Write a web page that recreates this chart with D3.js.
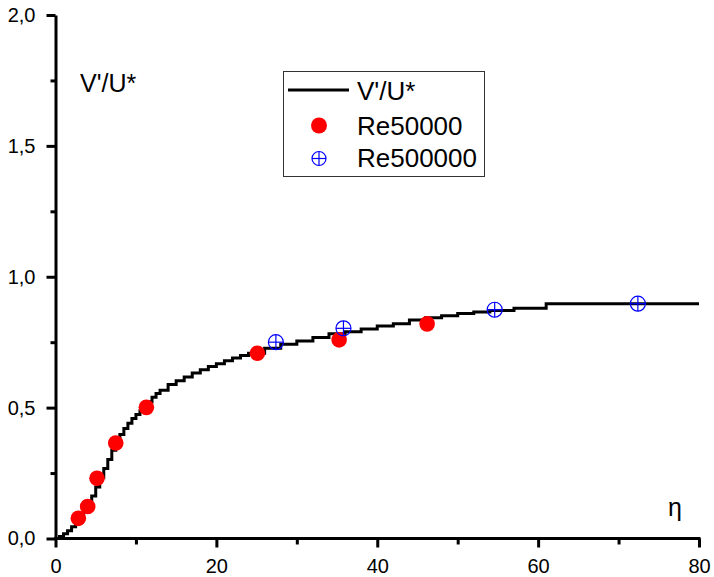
<!DOCTYPE html>
<html>
<head>
<meta charset="utf-8">
<script src="https://cdn.jsdelivr.net/npm/d3@7"></script>
<style>
  html, body { margin: 0; padding: 0; background: #fff; }
  svg { display: block; }
  text { font-family: Arial, "Liberation Sans", sans-serif; fill: #000; }
</style>
</head>
<body>
<svg id="chart" width="714" height="577"></svg>
<script>
// ---- data ----
const curveX = [0, 0.5, 1, 1.5, 2, 2.5, 3, 3.5, 4, 4.5, 5, 5.5, 6, 6.5, 7, 7.5, 8, 8.5, 9, 9.5, 10, 10.5, 11, 11.5, 12, 12.5, 13, 14, 15, 16, 17, 18, 19, 20, 21, 22, 23, 24, 26, 28, 30, 32, 34, 36, 38, 40, 42, 44, 46, 48, 50, 52, 54, 57, 61, 80];
const curveY = [0, 0.008, 0.018, 0.03, 0.045, 0.062, 0.08, 0.103, 0.13, 0.162, 0.197, 0.232, 0.267, 0.302, 0.337, 0.367, 0.397, 0.42, 0.44, 0.458, 0.474, 0.488, 0.502, 0.522, 0.54, 0.554, 0.566, 0.588, 0.603, 0.617, 0.632, 0.645, 0.657, 0.668, 0.679, 0.69, 0.699, 0.708, 0.727, 0.742, 0.755, 0.768, 0.782, 0.79, 0.8, 0.812, 0.82, 0.835, 0.843, 0.851, 0.86, 0.865, 0.871, 0.88, 0.897, 0.897];

const re50kX = [2.84, 4.0, 5.16, 7.49, 11.3, 25.1, 35.26, 46.2];
const re50kY = [0.077, 0.122, 0.23, 0.365, 0.501, 0.708, 0.759, 0.82];

const re500kX = [27.4, 35.8, 54.6, 72.4];
const re500kY = [0.75, 0.803, 0.874, 0.897];

const xTicks = [0, 20, 40, 60, 80];
const xMinorTicks = [10, 30, 50, 70];
const yTicks = [0, 0.5, 1.0, 1.5, 2.0];
const yMinorTicks = [0.25, 0.75, 1.25, 1.75];

const legendLabels = ["V'/U*", "Re50000", "Re500000"];
const yLabelText = "V'/U*";
const xLabelText = "η";

// ---- layout ----
const svg = d3.select("#chart");
const x = d3.scaleLinear().domain([0, 80]).range([55.5, 699]);
const y = d3.scaleLinear().domain([0, 2]).range([538.5, 15]);
const fmt = d => d3.format(".1f")(d).replace(".", ",");

// minor ticks
svg.append("g").attr("transform", "translate(55.5,0)")
  .call(d3.axisLeft(y).tickValues(yMinorTicks).tickSize(5).tickSizeOuter(0).tickFormat(""))
  .call(g => g.select(".domain").remove())
  .call(g => g.selectAll("line").attr("stroke-width", 3));
svg.append("g").attr("transform", "translate(0,538.5)")
  .call(d3.axisBottom(x).tickValues(xMinorTicks).tickSize(6).tickSizeOuter(0).tickFormat(""))
  .call(g => g.select(".domain").remove())
  .call(g => g.selectAll("line").attr("stroke-width", 3));

// major axes
const yAxis = svg.append("g").attr("transform", "translate(55.5,0)")
  .call(d3.axisLeft(y).tickValues(yTicks).tickSize(9).tickSizeOuter(0).tickPadding(11).tickFormat(fmt));
yAxis.select(".domain").attr("stroke-width", 3);
yAxis.selectAll(".tick line").attr("stroke-width", 3);
yAxis.selectAll("text").attr("font-size", 20).attr("font-family", "Arial, 'Liberation Sans', sans-serif");

const xAxis = svg.append("g").attr("transform", "translate(0,538.5)")
  .call(d3.axisBottom(x).tickValues(xTicks).tickSize(9).tickSizeOuter(0).tickPadding(11).tickFormat(d3.format("d")));
xAxis.select(".domain").attr("stroke-width", 3).attr("d", `M${x(0) - 1.5},0H${x(80) + 1.5}`);
xAxis.selectAll(".tick line").attr("stroke-width", 3);
xAxis.selectAll("text").attr("font-size", 20).attr("font-family", "Arial, 'Liberation Sans', sans-serif");

// curve
const curvePts = curveX.map((d, i) => [d, curveY[i]]);
svg.append("path")
  .datum(curvePts)
  .attr("fill", "none")
  .attr("stroke", "#000")
  .attr("stroke-width", 3)
  .attr("d", d3.line().x(d => x(d[0])).y(d => y(d[1])).curve(d3.curveStepAfter));

// Re50000 markers
svg.append("g").selectAll("circle")
  .data(re50kX.map((d, i) => [d, re50kY[i]]))
  .join("circle")
  .attr("cx", d => x(d[0])).attr("cy", d => y(d[1]))
  .attr("r", 7.8).attr("fill", "#ff0000");

// Re500000 markers
const r5 = 7.5;
function crossCircle(g, cx, cy, r) {
  g.append("circle").attr("cx", cx).attr("cy", cy).attr("r", r)
    .attr("fill", "none").attr("stroke", "#0000ff").attr("stroke-width", 1.2);
  g.append("line").attr("x1", cx - r).attr("x2", cx + r).attr("y1", cy).attr("y2", cy)
    .attr("stroke", "#0000ff").attr("stroke-width", 1.2);
  g.append("line").attr("x1", cx).attr("x2", cx).attr("y1", cy - r).attr("y2", cy + r)
    .attr("stroke", "#0000ff").attr("stroke-width", 1.2);
}
const bg = svg.append("g");
re500kX.forEach((d, i) => crossCircle(bg, x(d), y(re500kY[i]), r5));

// axis titles
svg.append("text").attr("x", 80).attr("y", 92).attr("font-size", 25).text(yLabelText);
svg.append("text").attr("x", 668).attr("y", 516).attr("font-size", 25).text(xLabelText);

// legend
const lg = svg.append("g");
lg.append("rect").attr("x", 283.5).attr("y", 71.5).attr("width", 201).attr("height", 105)
  .attr("fill", "#fff").attr("stroke", "#333").attr("stroke-width", 1);
lg.append("line").attr("x1", 288).attr("x2", 349).attr("y1", 90).attr("y2", 90)
  .attr("stroke", "#000").attr("stroke-width", 3);
lg.append("circle").attr("cx", 319).attr("cy", 125.5).attr("r", 8).attr("fill", "#ff0000");
crossCircle(lg, 319, 158.5, 7);
const baselines = [99.5, 135, 166.5];
legendLabels.forEach((t, i) => {
  lg.append("text").attr("x", 357).attr("y", baselines[i]).attr("font-size", 26).text(t);
});
</script>
</body>
</html>
